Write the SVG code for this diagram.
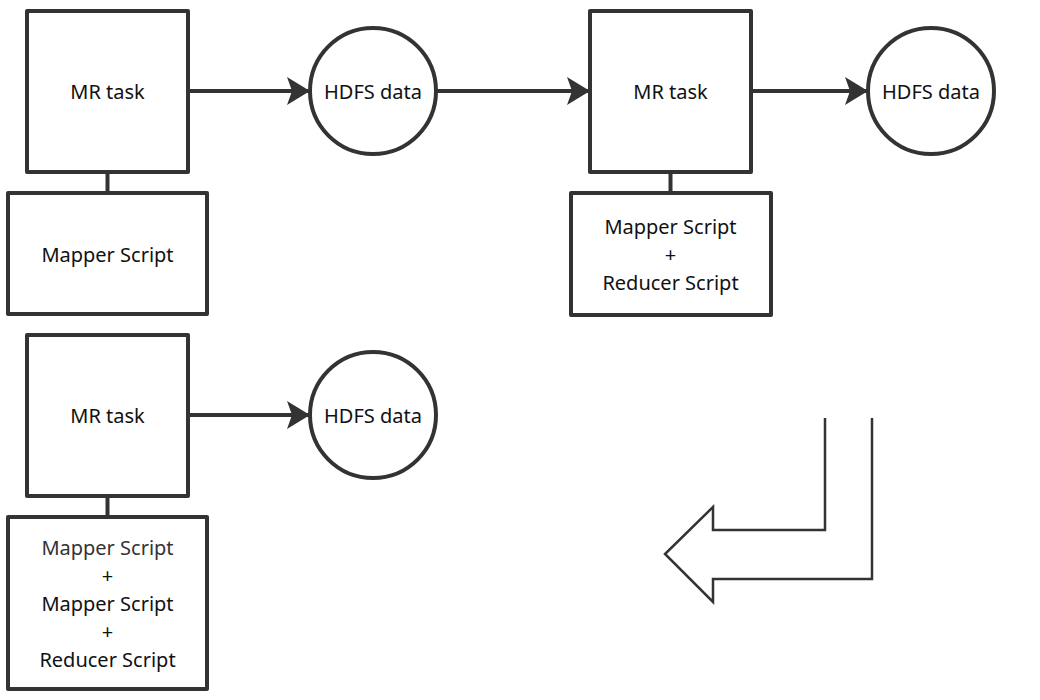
<svg xmlns="http://www.w3.org/2000/svg" width="1040" height="700" viewBox="0 0 1040 700">
<style>
.box{fill:#fff;stroke:#333;stroke-width:4;stroke-linejoin:round}
.circ{fill:#fff;stroke:#333;stroke-width:4}
.link{stroke:#333;stroke-width:4;fill:none}
.arr{stroke:#333;stroke-width:4;fill:none;marker-end:url(#ah)}
.t{font-family:"Noto Sans","Open Sans","Liberation Sans",sans-serif;font-size:20px;fill:#111;text-anchor:middle;dominant-baseline:central}
</style>
<defs>
<marker id="ah" markerUnits="userSpaceOnUse" markerWidth="26" markerHeight="28" refX="23" refY="14" orient="auto">
<path d="M0,0 L23,14 L0,28 L5,14 z" fill="#333"/>
</marker>
</defs>
<rect width="1040" height="700" fill="#fff"/>
<g id="connectors">
<line class="link" x1="107.5" y1="172" x2="107.5" y2="193"/>
<line class="link" x1="670.5" y1="172" x2="670.5" y2="193"/>
<line class="link" x1="107.5" y1="496" x2="107.5" y2="517"/>
<line class="arr" x1="188" y1="91" x2="310" y2="91"/>
<line class="arr" x1="436" y1="91" x2="590" y2="91"/>
<line class="arr" x1="751" y1="91" x2="868" y2="91"/>
<line class="arr" x1="188" y1="415" x2="310" y2="415"/>
</g>
<g id="mr1"><rect class="box" x="27" y="11" width="161" height="161"/><text class="t" x="107.5" y="91">MR task</text></g>
<g id="script1"><rect class="box" x="8" y="193" width="199" height="121"/><text class="t" x="107.5" y="254">Mapper Script</text></g>
<g id="hdfs1"><circle class="circ" cx="373" cy="91" r="63"/><text class="t" x="373" y="91">HDFS data</text></g>
<g id="mr2"><rect class="box" x="590" y="11" width="161" height="161"/><text class="t" x="670.5" y="91">MR task</text></g>
<g id="script2"><rect class="box" x="571" y="193" width="200" height="122"/>
<text class="t" x="670.5" y="226">Mapper Script</text><text class="t" x="670.5" y="254">+</text><text class="t" x="670.5" y="282">Reducer Script</text></g>
<g id="hdfs2"><circle class="circ" cx="931" cy="91" r="63"/><text class="t" x="931" y="91">HDFS data</text></g>
<g id="mr3"><rect class="box" x="27" y="335" width="161" height="161"/><text class="t" x="107.5" y="415">MR task</text></g>
<g id="script3"><rect class="box" x="8" y="517" width="199" height="172"/>
<text class="t" x="107.5" y="547" style="fill:#333">Mapper Script</text><text class="t" x="107.5" y="575">+</text><text class="t" x="107.5" y="603">Mapper Script</text><text class="t" x="107.5" y="631">+</text><text class="t" x="107.5" y="659">Reducer Script</text></g>
<g id="hdfs3"><circle class="circ" cx="373" cy="415" r="63"/><text class="t" x="373" y="415">HDFS data</text></g>
<g id="bent-arrow"><path d="M825,418 L825,530 L713,530 L713,507 L665,554 L713,602 L713,579 L872,579 L872,418" fill="none" stroke="#333" stroke-width="2.5" stroke-linejoin="miter"/></g>
</svg>
